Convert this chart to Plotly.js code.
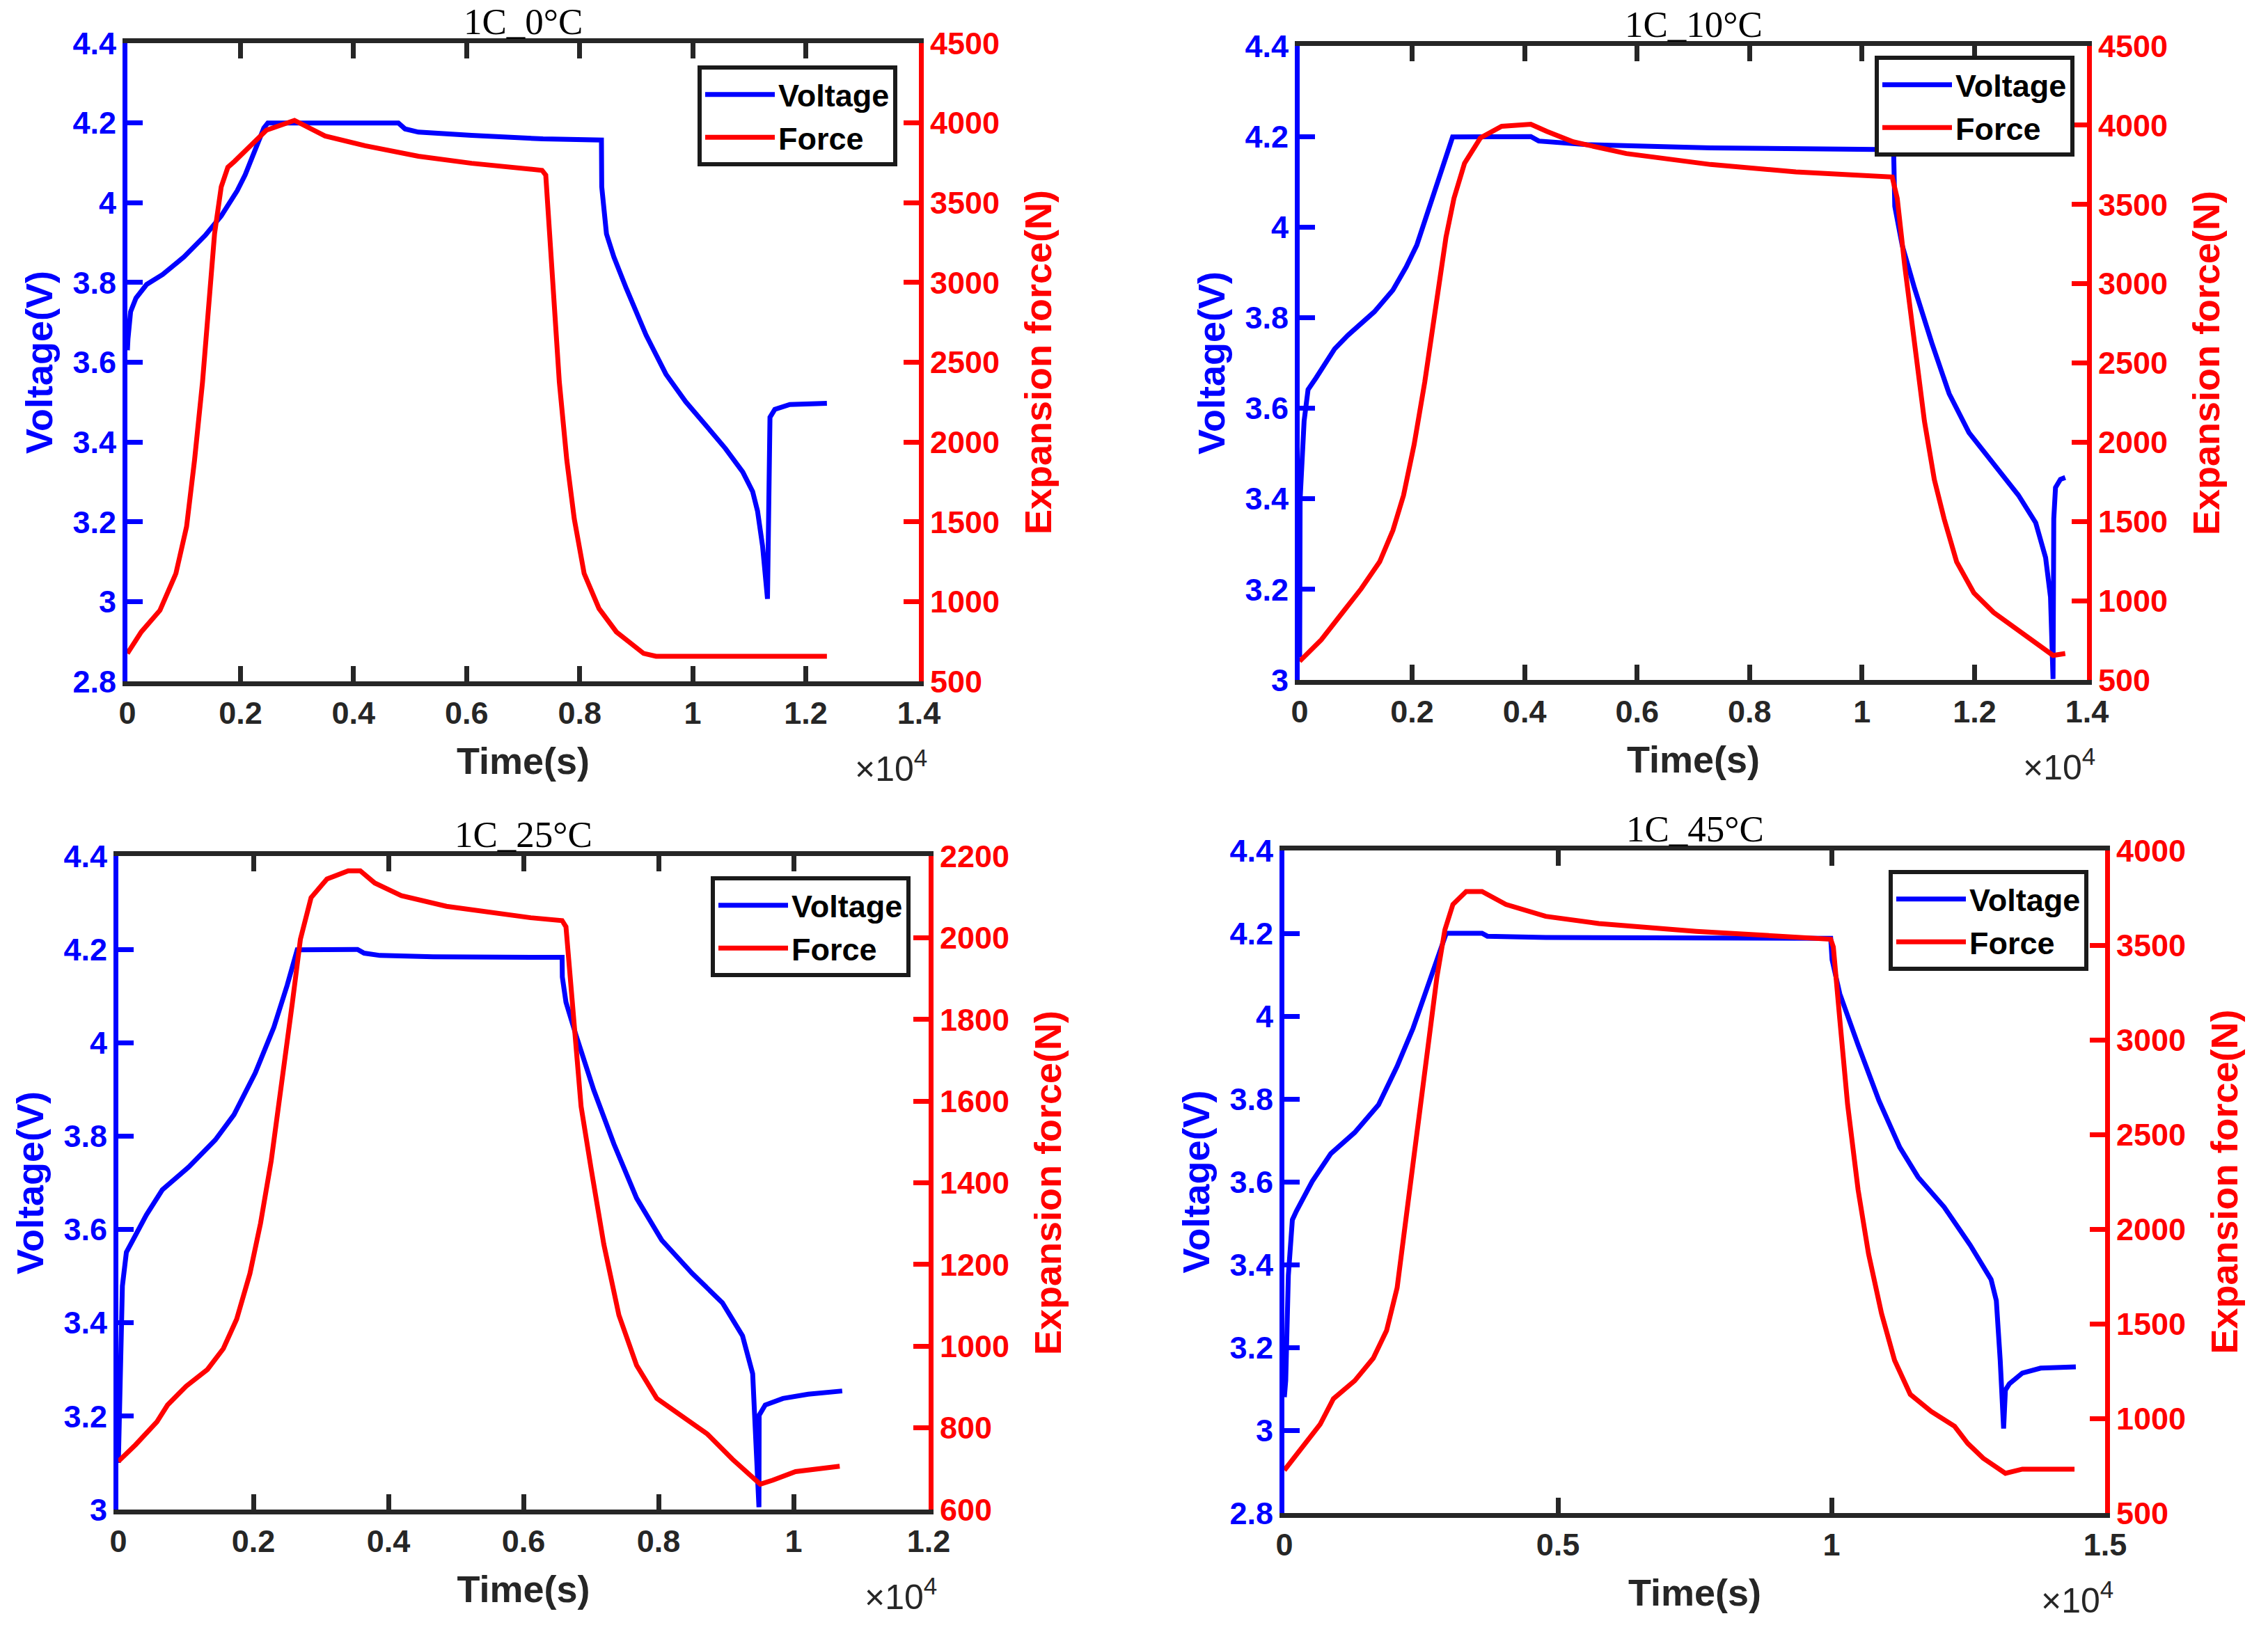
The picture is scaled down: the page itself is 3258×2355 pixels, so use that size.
<!DOCTYPE html>
<html>
<head>
<meta charset="utf-8">
<script src="https://cdn.plot.ly/plotly-3.0.1.min.js"></script>
<style>
  html, body { margin: 0; padding: 0; background: #fff; }
  #fig { width: 3258px; height: 2355px; }
</style>
</head>
<body>
<div id="fig"></div>
<script>
// --- data (time in s, voltage in V, force in N) ---
var tV_0C = [0, 10, 57, 152, 340, 623, 1000, 1377, 1660, 1942, 2084, 2272, 2413, 2484, 4793, 4911, 5147, 6089, 7351, 8385, 8390, 8474, 8605, 8825, 9175, 9526, 9876, 10225, 10577, 10884, 11059, 11146, 11235, 11322, 11344, 11366, 11452, 11717, 12373];
var volt_0C = [3.63, 3.658, 3.727, 3.761, 3.795, 3.82, 3.864, 3.918, 3.967, 4.03, 4.07, 4.138, 4.187, 4.2, 4.2, 4.185, 4.177, 4.169, 4.16, 4.157, 4.04, 3.922, 3.864, 3.785, 3.668, 3.57, 3.501, 3.443, 3.384, 3.325, 3.276, 3.227, 3.139, 3.007, 3.355, 3.462, 3.482, 3.494, 3.497];
var tF_0C = [0, 246, 576, 858, 1047, 1188, 1329, 1447, 1542, 1660, 1777, 1895, 2178, 2460, 2955, 3497, 4204, 5147, 6089, 7334, 7400, 7509, 7640, 7772, 7904, 8079, 8342, 8649, 9131, 9350, 12373];
var force_0C = [675, 810, 945, 1176, 1470, 1887, 2376, 2866, 3306, 3600, 3722, 3759, 3857, 3955, 4016, 3918, 3857, 3791, 3747, 3703, 3673, 3110, 2376, 1887, 1519, 1176, 956, 810, 675, 657, 657];

var tV_10C = [0, 8, 79, 149, 291, 621, 856, 1328, 1658, 1894, 2082, 2365, 2554, 2719, 4110, 4251, 5100, 7306, 10561, 10565, 10582, 10713, 10933, 11241, 11549, 11901, 12340, 12780, 13088, 13264, 13351, 13396, 13409, 13440, 13527, 13613];
var volt_10C = [3.05, 3.4, 3.572, 3.641, 3.667, 3.731, 3.761, 3.813, 3.861, 3.912, 3.96, 4.063, 4.136, 4.199, 4.2, 4.19, 4.182, 4.175, 4.171, 4.106, 4.046, 3.96, 3.865, 3.744, 3.632, 3.546, 3.477, 3.408, 3.347, 3.27, 3.183, 3.002, 3.356, 3.425, 3.443, 3.447];
var tF_10C = [0, 385, 763, 1093, 1423, 1658, 1847, 2035, 2224, 2413, 2601, 2743, 2931, 3214, 3591, 4110, 4393, 4864, 5808, 7306, 8823, 10536, 10626, 10757, 10933, 11109, 11285, 11459, 11681, 11988, 12340, 12780, 13396, 13613];
var force_10C = [618, 754, 926, 1075, 1246, 1444, 1665, 1985, 2379, 2849, 3292, 3538, 3759, 3920, 3993, 4006, 3961, 3895, 3821, 3752, 3705, 3673, 3538, 3119, 2626, 2133, 1764, 1517, 1246, 1049, 926, 815, 655, 667];

var tV_25C = [0, 21, 60, 119, 179, 414, 651, 1044, 1437, 1713, 2027, 2303, 2500, 2649, 3542, 3640, 3876, 4663, 6110, 6572, 6575, 6629, 6778, 7040, 7339, 7675, 8048, 8497, 8946, 9244, 9394, 9449, 9487, 9490, 9580, 9842, 10216, 10720];
var volt_25C = [3.1, 3.238, 3.479, 3.551, 3.568, 3.631, 3.685, 3.734, 3.792, 3.846, 3.935, 4.033, 4.123, 4.199, 4.2, 4.192, 4.187, 4.184, 4.183, 4.183, 4.141, 4.087, 4.016, 3.899, 3.783, 3.667, 3.577, 3.506, 3.443, 3.372, 3.291, 3.148, 3.005, 3.202, 3.224, 3.238, 3.247, 3.254];
var tF_25C = [0, 257, 572, 729, 1004, 1320, 1555, 1752, 1949, 2106, 2264, 2421, 2578, 2696, 2854, 3090, 3405, 3582, 3797, 4191, 4860, 6105, 6572, 6629, 6741, 6853, 7002, 7189, 7413, 7675, 7974, 8423, 8722, 9095, 9506, 9693, 10029, 10683];
var force_25C = [718, 759, 815, 856, 902, 943, 994, 1066, 1178, 1301, 1454, 1638, 1842, 1996, 2098, 2144, 2164, 2164, 2134, 2103, 2077, 2049, 2042, 2027, 1791, 1587, 1434, 1250, 1076, 953, 872, 820, 785, 723, 662, 672, 693, 706];

var tV_45C = [0, 25, 73, 146, 219, 510, 849, 1286, 1722, 2061, 2353, 2643, 2958, 3613, 3710, 4777, 7530, 9985, 10010, 10151, 10486, 10867, 11248, 11582, 12058, 12535, 12916, 13012, 13083, 13145, 13178, 13250, 13488, 13822, 14465];
var volt_45C = [3.08, 3.12, 3.374, 3.508, 3.529, 3.601, 3.668, 3.719, 3.786, 3.879, 3.971, 4.085, 4.2, 4.2, 4.193, 4.19, 4.189, 4.188, 4.136, 4.054, 3.93, 3.796, 3.683, 3.611, 3.539, 3.447, 3.364, 3.313, 3.169, 3.004, 3.097, 3.112, 3.138, 3.15, 3.153];
var tF_45C = [0, 316, 655, 897, 1286, 1625, 1868, 2061, 2207, 2401, 2595, 2789, 2934, 3080, 3322, 3613, 4049, 4777, 5746, 7530, 9985, 10033, 10151, 10294, 10486, 10676, 10914, 11152, 11439, 11820, 12249, 12488, 12773, 13178, 13488, 14441];
var force_45C = [726, 845, 969, 1104, 1199, 1318, 1464, 1690, 2027, 2432, 2882, 3333, 3581, 3715, 3783, 3783, 3715, 3652, 3614, 3573, 3531, 3490, 3108, 2658, 2207, 1870, 1554, 1307, 1127, 1037, 958, 868, 789, 710, 732, 732];

var titles = ['1C_0°C', '1C_10°C', '1C_25°C', '1C_45°C'];
var xTicks14 = [0, 2000, 4000, 6000, 8000, 10000, 12000, 14000];
var xTicks12 = [0, 2000, 4000, 6000, 8000, 10000, 12000];
var xTicks15 = [0, 5000, 10000, 15000];
var vRanges = [[2.8, 4.4], [3, 4.4], [3, 4.4], [2.8, 4.4]];
var fRanges = [[500, 4500], [500, 4500], [600, 2200], [500, 4000]];
var fSteps = [500, 500, 200, 500];

// --- page geometry (pixels of the 3258x2355 figure) ---
var W = 3258, H = 2355;
function px(x) { return x / W; }
function py(y) { return 1 - y / H; }

var SANS = 'Liberation Sans, Arial, sans-serif';
var SERIF = 'Liberation Serif, Times New Roman, serif';
var DARK = '#262626';
var BLUE = '#0000FF';
var RED = '#FF0000';
var TICKLEN = 22;

// box = [left, right, top, bottom] of each axes, leg = [right, top] of legend
var panels = [
  {tV: tV_0C, v: volt_0C, tF: tF_0C, f: force_0C, xTicks: xTicks14, box: [183, 1320, 62, 979], leg: [1289, 94]},
  {tV: tV_10C, v: volt_10C, tF: tF_10C, f: force_10C, xTicks: xTicks14, box: [1867, 2998, 66, 977], leg: [2980, 80]},
  {tV: tV_25C, v: volt_25C, tF: tF_25C, f: force_25C, xTicks: xTicks12, box: [170, 1334, 1230, 2169], leg: [1308, 1259]},
  {tV: tV_45C, v: volt_45C, tF: tF_45C, f: force_45C, xTicks: xTicks15, box: [1845, 3024, 1222, 2174], leg: [3000, 1250]}
];

var data = [];
var layout = {
  width: W, height: H,
  margin: {l: 0, r: 0, t: 0, b: 0},
  paper_bgcolor: 'white',
  plot_bgcolor: 'white',
  font: {family: SANS, size: 45, color: DARK},
  hovermode: false,
  annotations: []
};

panels.forEach(function (p, i) {
  var n = i + 1;
  var xid = n === 1 ? 'x' : 'x' + n;
  var ylNum = 2 * i + 1, yrNum = 2 * i + 2;
  var ylid = ylNum === 1 ? 'y' : 'y' + ylNum;
  var yrid = 'y' + yrNum;
  var legId = n === 1 ? 'legend' : 'legend' + n;
  var xDom = [px(p.box[0]), px(p.box[1])];
  var yDom = [py(p.box[3]), py(p.box[2])];

  data.push({
    x: p.tV, y: p.v, xaxis: xid, yaxis: ylid, legend: legId,
    name: 'Voltage', type: 'scatter', mode: 'lines',
    line: {color: BLUE, width: 7}
  });
  data.push({
    x: p.tF, y: p.f, xaxis: xid, yaxis: yrid, legend: legId,
    name: 'Force', type: 'scatter', mode: 'lines',
    line: {color: RED, width: 7}
  });

  layout[n === 1 ? 'xaxis' : 'xaxis' + n] = {
    domain: xDom, anchor: ylid,
    range: [0, p.xTicks[p.xTicks.length - 1]],
    tickmode: 'array',
    tickvals: p.xTicks,
    ticktext: p.xTicks.map(function (v) { return String(v / 1e4); }),
    ticks: 'inside', ticklen: TICKLEN, tickwidth: 7, tickcolor: DARK,
    showline: true, linewidth: 7, linecolor: DARK, mirror: 'ticks',
    showgrid: false, zeroline: false,
    tickfont: {size: 45, weight: 'bold', color: DARK},
    title: {text: 'Time(s)', standoff: 28, font: {size: 54, weight: 'bold', color: DARK}}
  };
  layout[ylNum === 1 ? 'yaxis' : 'yaxis' + ylNum] = {
    domain: yDom, anchor: xid,
    range: vRanges[i], dtick: 0.2, tick0: 0,
    ticks: 'inside', ticklen: TICKLEN, tickwidth: 7, tickcolor: BLUE,
    showline: true, linewidth: 7, linecolor: BLUE,
    showgrid: false, zeroline: false,
    tickfont: {size: 45, weight: 'bold', color: BLUE},
    title: {text: 'Voltage(V)', standoff: 14, font: {size: 54, weight: 'bold', color: BLUE}}
  };
  layout['yaxis' + yrNum] = {
    domain: yDom, anchor: xid, overlaying: ylid, side: 'right',
    range: fRanges[i], dtick: fSteps[i], tick0: 0,
    exponentformat: 'none', separatethousands: false,
    ticks: 'inside', ticklen: TICKLEN, tickwidth: 7, tickcolor: RED,
    showline: true, linewidth: 7, linecolor: RED,
    showgrid: false, zeroline: false,
    tickfont: {size: 45, weight: 'bold', color: RED},
    title: {text: 'Expansion force(N)', standoff: 40, font: {size: 54, weight: 'bold', color: RED}}
  };
  layout[legId] = {
    x: px(p.leg[0]), y: py(p.leg[1]), xanchor: 'right', yanchor: 'top',
    bgcolor: 'white', bordercolor: '#1a1a1a', borderwidth: 6,
    itemwidth: 100, tracegroupgap: 0,
    font: {family: SANS, size: 45, weight: 'bold', color: '#000'}
  };

  // panel title above the box
  layout.annotations.push({
    xref: 'paper', yref: 'paper',
    x: px((p.box[0] + p.box[1]) / 2), y: py(p.box[2]),
    xanchor: 'center', yanchor: 'bottom', showarrow: false,
    text: titles[i], font: {family: SERIF, size: 53, color: '#000'}
  });
  // x10^4 multiplier under the right end of the time axis
  layout.annotations.push({
    xref: 'paper', yref: 'paper',
    x: px(p.box[1] + 14), y: py(p.box[3] + 122),
    xanchor: 'right', yanchor: 'middle', showarrow: false,
    text: '×10<sup>4</sup>', font: {family: SANS, size: 50, color: DARK}
  });
});

Plotly.newPlot('fig', data, layout, {staticPlot: true, displayModeBar: false});
</script>
</body>
</html>
